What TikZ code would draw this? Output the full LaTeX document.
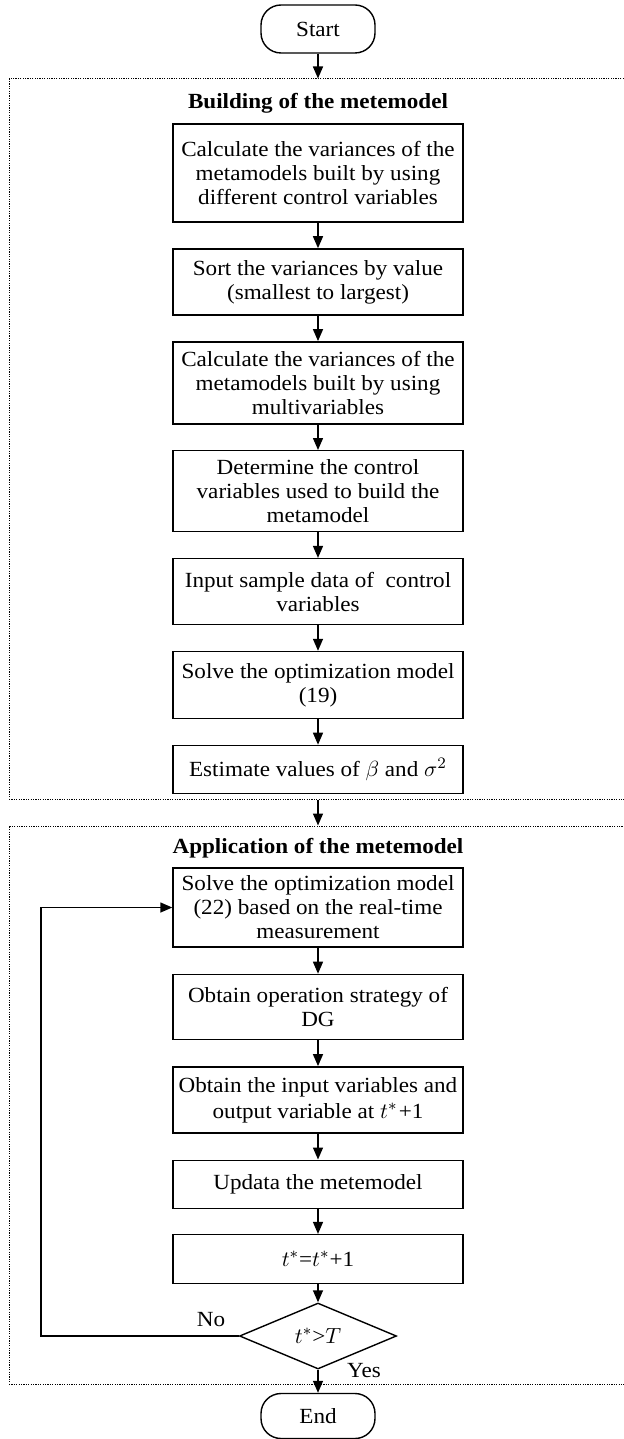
\documentclass[tikz,border=0pt]{standalone}
\usepackage{fontspec}
\setmainfont{Liberation Serif}[FakeStretch=1.07]
\usepackage{tikz}
\usetikzlibrary{arrows.meta,positioning,shapes.geometric}
\tikzset{
  box/.style={draw, line width=0.7pt, align=center, inner xsep=1pt, inner ysep=1pt, minimum width=145pt},
  term/.style={draw, line width=0.7pt, rounded corners=10pt, minimum width=57pt, minimum height=24pt},
  cond/.style={draw, diamond, line width=0.7pt, minimum width=78.5pt, minimum height=33pt, inner sep=0pt},
  group/.style={draw, line width=0.5pt, dash pattern=on 0.6pt off 0.6pt, inner sep=0pt},
  grouptitle/.style={font=\bfseries\fontsize{10.8}{12}\selectfont},
  arrow/.style={-{Triangle[length=6pt,width=5pt]}, line width=0.7pt},
}

\begin{document}
\begin{tikzpicture}[x=0.5pt, y=-0.5pt, node distance=12.75pt, font=\fontsize{10.8}{12}\selectfont]
  \useasboundingbox (0,0) rectangle (624,1439);

  % START
  \node[term] (start) at (318,29) {Start};

  % GROUPS
  \node[group, minimum width=320.5pt, minimum height=360pt] (fr1) at (329.5,439) {};
  \node[group, minimum width=320.5pt, minimum height=279pt] (fr2) at (329.5,1105) {};

  % BUILDING
  \node[grouptitle] (t1) at (318,103) {Building of the metemodel};
  \node[box, minimum height=49pt] (b1) at (318,173) {Calculate the variances of the\\metamodels built by using\\different control variables};
  \node[box, below=of b1, minimum height=33pt] (b2) {Sort the variances by value\\(smallest to largest)};
  \node[box, below=of b2, minimum height=41pt] (b3) {Calculate the variances of the\\metamodels built by using\\multivariables};
  \node[box, below=of b3, minimum height=40.5pt] (b4) {Determine the control\\variables used to build the\\metamodel};
  \node[box, below=of b4, minimum height=33pt] (b5) {Input sample data of \ control\\variables};
  \node[box, below=of b5, minimum height=33.5pt] (b6) {Solve the optimization model\\(19)};
  \node[box, below=of b6, minimum height=24pt] (b7) {Estimate values of $\beta$ and $\sigma^2$};

  \draw[arrow] (start) -- (start |- fr1.north);
  \draw[arrow] (b1) -- (b2);
  \draw[arrow] (b2) -- (b3);
  \draw[arrow] (b3) -- (b4);
  \draw[arrow] (b4) -- (b5);
  \draw[arrow] (b5) -- (b6);
  \draw[arrow] (b6) -- (b7);
  \draw[arrow] (fr1.south -| b7) -- (fr2.north -| b7);

  % APPLICATION
  \node[grouptitle] (t2) at (318,848) {Application of the metemodel};
  \node[box, minimum height=39.5pt] (b8) at (318,907.5) {Solve the optimization model\\(22) based on the real-time\\measurement};
  \node[box, below=13pt of b8, minimum height=32.5pt] (b9) {Obtain operation strategy of\\DG};
  \node[box, below=13pt of b9, minimum height=33pt] (b10) {Obtain the input variables and\\[1pt]output variable at $t^{*}$\kern0.6pt+1};
  \node[box, below=13pt of b10, minimum height=24pt] (b11) {Updata the metemodel};
  \node[box, below=12.5pt of b11, minimum height=24.5pt] (b12) {$t^{*}$=$t^{*}$+1};
  \node[cond] (cond) at (318,1336) {$t^{*}$>$T$};
  \node[term, minimum height=22.5pt] (end) at (318,1416) {End};
  \coordinate (loop) at (41,1336);
  \node (no) at (211,1320) {No};
  \node (yes) at (364,1371) {Yes};

  \draw[arrow] (b8) -- (b9);
  \draw[arrow] (b9) -- (b10);
  \draw[arrow] (b10) -- (b11);
  \draw[arrow] (b11) -- (b12);
  \draw[arrow] (b12) -- (cond);
  \draw[arrow] (cond) -- (end);
  \draw[arrow] (cond.west) -- (loop) |- (b8.west);

\end{tikzpicture}
\end{document}
